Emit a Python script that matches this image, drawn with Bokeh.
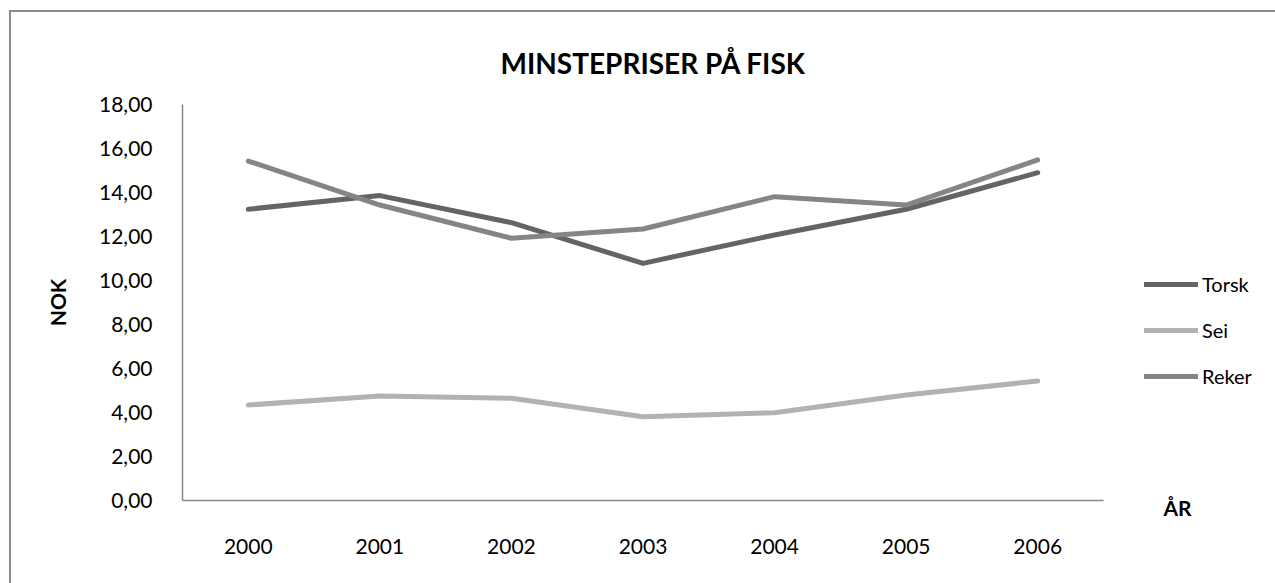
from bokeh.plotting import figure
from bokeh.layouts import row
from bokeh.models import FactorRange, Range1d, FixedTicker, Legend, LegendItem, Label, Title
from bokeh.embed import file_html
from bokeh.resources import INLINE

# Minimum prices (NOK) per year
years = ["2000", "2001", "2002", "2003", "2004", "2005", "2006"]
torsk = [13.24, 13.86, 12.63, 10.78, 12.07, 13.24, 14.90]
sei = [4.34, 4.75, 4.65, 3.81, 3.99, 4.80, 5.43]
reker = [15.43, 13.43, 11.92, 12.34, 13.81, 13.43, 15.48]

series_names = ["Torsk", "Sei", "Reker"]
series_colors = ["#646464", "#b2b2b2", "#858585"]
y_ticks = [0, 2, 4, 6, 8, 10, 12, 14, 16, 18]

FONT = "Lato"
H = 571

# main chart
p = figure(
    width=1094, height=H,
    x_range=FactorRange(*years), y_range=Range1d(0, 18),
    output_backend="svg", toolbar_location=None,
    min_border_left=171, min_border_right=2,
    min_border_top=92, min_border_bottom=83,
)
p.outline_line_color = None
p.xgrid.visible = False
p.ygrid.visible = False
p.background_fill_color = "white"
p.border_fill_color = "white"

p.title = Title(text="MINSTEPRISER PÅ FISK", align="left", offset=318,
                text_font=FONT, text_font_size="28px", text_font_style="bold",
                text_color="#000000", standoff=49)

for ax in (p.xaxis[0], p.yaxis[0]):
    ax.axis_line_color = "#868686"
    ax.axis_line_width = 1.5
    ax.major_tick_line_color = None
    ax.minor_tick_line_color = None
    ax.major_label_text_font = FONT
    ax.major_label_text_font_size = "21px"
    ax.major_label_text_color = "#000000"

p.yaxis.ticker = FixedTicker(ticks=y_ticks)
p.yaxis.major_label_overrides = {t: f"{t:.2f}".replace(".", ",") for t in y_ticks}
p.yaxis.major_label_standoff = 24
p.yaxis.axis_label = "NOK"
p.yaxis.axis_label_text_font = FONT
p.yaxis.axis_label_text_font_size = "21px"
p.yaxis.axis_label_text_font_style = "bold"
p.yaxis.axis_label_text_color = "#000000"
p.yaxis.axis_label_standoff = 26

p.xaxis.major_label_standoff = 32

for vals, col in zip([torsk, sei, reker], series_colors):
    p.line(years, vals, line_color=col, line_width=5, line_cap="round", line_join="round")

# side panel holding the legend and the x-axis title
side_w = 1264 - 1094
s = figure(
    width=side_w, height=H,
    x_range=Range1d(0, side_w), y_range=Range1d(0, H),
    output_backend="svg", toolbar_location=None,
    x_axis_location=None, y_axis_location=None,
    min_border=0,
)
s.frame_align = False
s.outline_line_color = None
s.xgrid.visible = False
s.ygrid.visible = False
s.background_fill_color = "white"
s.border_fill_color = "white"

# single-point key lines: only their legend swatches are visible
keys = [s.line(x=[0], y=[0], line_color=col, line_width=5, line_cap="round")
        for col in series_colors]

legend = Legend(
    items=[LegendItem(label=n, renderers=[r]) for n, r in zip(series_names, keys)],
    location=(39, 195),
    glyph_width=54, glyph_height=20, label_height=20, spacing=22,
    label_standoff=4, padding=0, margin=0,
    border_line_color=None, background_fill_alpha=0,
    label_text_font=FONT, label_text_font_size="20px", label_text_color="#000000",
)
s.add_layout(legend)

s.add_layout(Label(x=72, y=76, text="ÅR", text_font=FONT, text_font_size="21px",
                   text_font_style="bold", text_align="center", text_baseline="middle",
                   text_color="#000000"))

layout = row(p, s, spacing=0)
layout.styles = {"border-left": "2px solid #8a8a8a", "border-top": "2px solid #8a8a8a",
                 "background": "white"}
layout.margin = (10, 0, 0, 9)

open("out.html", "w").write(file_html(layout, INLINE))
